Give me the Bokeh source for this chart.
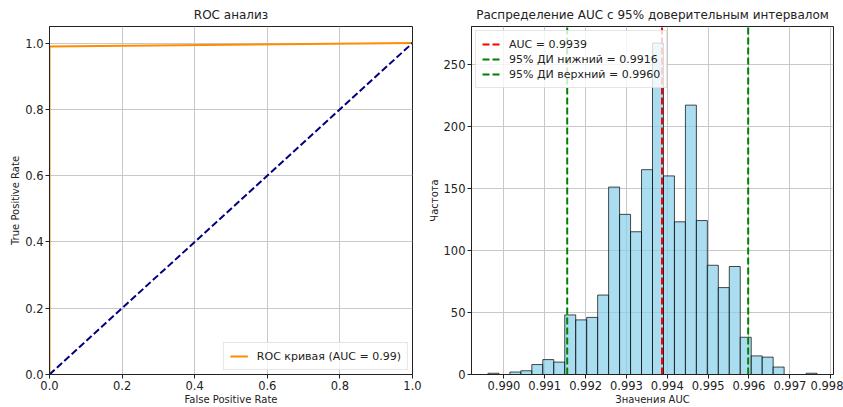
from bokeh.plotting import figure
from bokeh.layouts import row
from bokeh.models import Range1d, FixedTicker, NumeralTickFormatter, Legend
from bokeh.embed import file_html
from bokeh.resources import INLINE

# ---------------- data ----------------
roc_fpr = [0.0, 0.0, 1.0]
roc_tpr = [0.0, 0.99, 1.0]
diag_x = [0.0, 1.0]
diag_y = [0.0, 1.0]
roc_label = "ROC кривая (AUC = 0.99)"

hist_start = 0.98961
hist_end = 0.997666
hist_counts = [1, 0, 2, 3, 8, 12, 10, 48, 44, 46, 64, 151, 129, 115, 165,
               267, 160, 123, 217, 124, 88, 70, 87, 30, 15, 14, 6, 0, 0, 1]
auc_value = 0.99387
ci_lower = 0.99155
ci_upper = 0.99598
auc_label = "AUC = 0.9939"
lower_label = "95% ДИ нижний = 0.9916"
upper_label = "95% ДИ верхний = 0.9960"
hist_xticks = [0.990, 0.991, 0.992, 0.993, 0.994, 0.995, 0.996, 0.997, 0.998]
hist_yticks = [0, 50, 100, 150, 200, 250]
roc_ticks_x = [0.0, 0.2, 0.4, 0.6, 0.8, 1.0]
roc_ticks_y = [0.0, 0.2, 0.4, 0.6, 0.8, 1.0]

FONT = "DejaVu Sans"


def style(p):
    p.title.text_font = FONT
    p.title.text_font_size = "12px"
    p.title.text_font_style = "normal"
    p.title.align = "center"
    p.title.text_color = "#222222"
    p.outline_line_color = "#222222"
    p.outline_line_alpha = 1.0
    p.outline_line_width = 1
    for ax in (p.xaxis[0], p.yaxis[0]):
        ax.axis_label_text_font = FONT
        ax.axis_label_text_font_size = "10px"
        ax.axis_label_text_font_style = "normal"
        ax.axis_label_text_color = "#222222"
        ax.major_label_text_font = FONT
        ax.major_label_text_font_size = "11.5px"
        ax.major_label_text_font_style = "normal"
        ax.major_label_text_color = "#222222"
        ax.axis_line_color = "#222222"
        ax.major_tick_line_color = "#222222"
        ax.major_tick_in = 0
        ax.major_tick_out = 4
        ax.minor_tick_line_color = None
        ax.major_label_standoff = 2
        ax.axis_label_standoff = 1
    for g in (p.xgrid[0], p.ygrid[0]):
        g.grid_line_color = "#c8c8c8"
        g.grid_line_width = 1


# ---------------- left: ROC ----------------
p1 = figure(width=425, height=407, output_backend="svg", toolbar_location=None,
            title="ROC анализ", x_range=Range1d(0, 1), y_range=Range1d(0, 1.05),
            min_border_left=49, min_border_right=13, min_border_top=26,
            min_border_bottom=32)
p1.xaxis.axis_label = "False Positive Rate"
p1.yaxis.axis_label = "True Positive Rate"
p1.xaxis.ticker = FixedTicker(ticks=roc_ticks_x)
p1.yaxis.ticker = FixedTicker(ticks=roc_ticks_y)
p1.xaxis.formatter = NumeralTickFormatter(format="0.0")
p1.yaxis.formatter = NumeralTickFormatter(format="0.0")
style(p1)

r_roc = p1.line(roc_fpr, roc_tpr, line_color="darkorange", line_width=2)
p1.line(diag_x, diag_y, line_color="navy", line_width=2, line_dash="7 3")
leg1 = Legend(items=[(roc_label, [r_roc])], location="bottom_right")
p1.add_layout(leg1)

# ---------------- right: histogram ----------------
nb = len(hist_counts)
bw = (hist_end - hist_start) / nb
lefts = [hist_start + i * bw for i in range(nb)]
rights = [l + bw for l in lefts]
margin = (hist_end - hist_start) * 0.05
ytop = max(hist_counts) * 1.05

p2 = figure(width=418, height=407, output_backend="svg", toolbar_location=None,
            title="Распределение AUC с 95% доверительным интервалом",
            x_range=Range1d(hist_start - margin, hist_end + margin),
            y_range=Range1d(0, ytop),
            min_border_left=46, min_border_right=10, min_border_top=26,
            min_border_bottom=32)
p2.xaxis.axis_label = "Значения AUC"
p2.yaxis.axis_label = "Частота"
p2.xaxis.ticker = FixedTicker(ticks=hist_xticks)
p2.yaxis.ticker = FixedTicker(ticks=hist_yticks)
p2.xaxis.formatter = NumeralTickFormatter(format="0.000")
style(p2)

p2.quad(left=lefts, right=rights, bottom=0, top=hist_counts,
        fill_color="#87CEEB", fill_alpha=0.7, line_color="black",
        line_alpha=0.7, line_width=1)
r_auc = p2.line([auc_value, auc_value], [0, ytop], line_color="red",
                line_width=2, line_dash="7 3")
r_lo = p2.line([ci_lower, ci_lower], [0, ytop], line_color="green",
               line_width=2, line_dash="7 3")
r_hi = p2.line([ci_upper, ci_upper], [0, ytop], line_color="green",
               line_width=2, line_dash="7 3")
leg2 = Legend(items=[(auc_label, [r_auc]), (lower_label, [r_lo]),
                     (upper_label, [r_hi])], location="top_left")
p2.add_layout(leg2)

for leg in (leg1, leg2):
    leg.label_text_font = FONT
    leg.label_text_font_size = "11px"
    leg.label_text_color = "#222222"
    leg.border_line_color = "#cccccc"
    leg.border_line_width = 1
    leg.background_fill_alpha = 0.8
    leg.glyph_width = 18
    leg.glyph_height = 14
    leg.label_height = 14
    leg.spacing = 1
    leg.padding = 6
    leg.margin = 4
    leg.label_standoff = 9

layout = row(p1, p2)
open("out.html", "w").write(file_html(layout, INLINE))
